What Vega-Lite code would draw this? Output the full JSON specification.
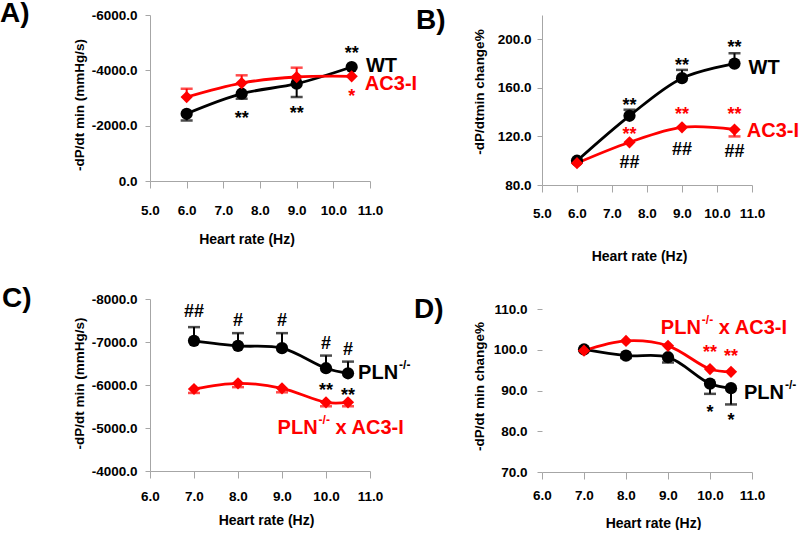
{
  "$schema": "https://vega.github.io/schema/vega-lite/v6.json",
  "padding": 0,
  "background": "white",
  "datasets": {
    "pts": [
      {"panel":"A","series":"WT","hz":6,"value":-2430},
      {"panel":"A","series":"WT","hz":7.5,"value":-3155},
      {"panel":"A","series":"WT","hz":9,"value":-3517},
      {"panel":"A","series":"WT","hz":10.5,"value":-4120},
      {"panel":"A","series":"AC3-I","hz":6,"value":-3036},
      {"panel":"A","series":"AC3-I","hz":7.5,"value":-3542},
      {"panel":"A","series":"AC3-I","hz":9,"value":-3759},
      {"panel":"A","series":"AC3-I","hz":10.5,"value":-3783},
      {"panel":"B","series":"WT","hz":6,"value":100},
      {"panel":"B","series":"WT","hz":7.5,"value":137},
      {"panel":"B","series":"WT","hz":9,"value":168},
      {"panel":"B","series":"WT","hz":10.5,"value":180},
      {"panel":"B","series":"AC3-I","hz":6,"value":98},
      {"panel":"B","series":"AC3-I","hz":7.5,"value":115.2},
      {"panel":"B","series":"AC3-I","hz":9,"value":127.5},
      {"panel":"B","series":"AC3-I","hz":10.5,"value":125.7},
      {"panel":"C","series":"PLN","hz":7,"value":-7027},
      {"panel":"C","series":"PLN","hz":8,"value":-6910},
      {"panel":"C","series":"PLN","hz":9,"value":-6856},
      {"panel":"C","series":"PLN","hz":10,"value":-6390},
      {"panel":"C","series":"PLN","hz":10.5,"value":-6273},
      {"panel":"C","series":"PLNxAC3","hz":7,"value":-5907},
      {"panel":"C","series":"PLNxAC3","hz":8,"value":-6040},
      {"panel":"C","series":"PLNxAC3","hz":9,"value":-5923},
      {"panel":"C","series":"PLNxAC3","hz":10,"value":-5596},
      {"panel":"C","series":"PLNxAC3","hz":10.5,"value":-5596},
      {"panel":"D","series":"PLN","hz":7,"value":100.1},
      {"panel":"D","series":"PLN","hz":8,"value":98.6},
      {"panel":"D","series":"PLN","hz":9,"value":98.2},
      {"panel":"D","series":"PLN","hz":10,"value":91.7},
      {"panel":"D","series":"PLN","hz":10.5,"value":90.6},
      {"panel":"D","series":"PLNxAC3","hz":7,"value":99.8},
      {"panel":"D","series":"PLNxAC3","hz":8,"value":102.2},
      {"panel":"D","series":"PLNxAC3","hz":9,"value":101},
      {"panel":"D","series":"PLNxAC3","hz":10,"value":95.3},
      {"panel":"D","series":"PLNxAC3","hz":10.5,"value":94.6}
    ],
    "errs": [
      {"panel":"A","series":"WT","hz":6,"value":-2430,"end":-2190},
      {"panel":"A","series":"WT","hz":7.5,"value":-3155,"end":-2975},
      {"panel":"A","series":"WT","hz":9,"value":-3517,"end":-3036},
      {"panel":"A","series":"AC3-I","hz":6,"value":-3036,"end":-3336},
      {"panel":"A","series":"AC3-I","hz":7.5,"value":-3542,"end":-3820},
      {"panel":"A","series":"AC3-I","hz":9,"value":-3759,"end":-4096},
      {"panel":"B","series":"WT","hz":7.5,"value":137,"end":142},
      {"panel":"B","series":"WT","hz":9,"value":168,"end":174.8},
      {"panel":"B","series":"WT","hz":10.5,"value":180,"end":188.5},
      {"panel":"B","series":"AC3-I","hz":10.5,"value":125.7,"end":120},
      {"panel":"C","series":"PLN","hz":7,"value":-7027,"end":-7346},
      {"panel":"C","series":"PLN","hz":8,"value":-6910,"end":-7206},
      {"panel":"C","series":"PLN","hz":9,"value":-6856,"end":-7206},
      {"panel":"C","series":"PLN","hz":10,"value":-6390,"end":-6684},
      {"panel":"C","series":"PLN","hz":10.5,"value":-6273,"end":-6544},
      {"panel":"C","series":"PLNxAC3","hz":7,"value":-5907,"end":-5815},
      {"panel":"C","series":"PLNxAC3","hz":8,"value":-6040,"end":-5950},
      {"panel":"C","series":"PLNxAC3","hz":9,"value":-5923,"end":-5830},
      {"panel":"C","series":"PLNxAC3","hz":10,"value":-5596,"end":-5505},
      {"panel":"C","series":"PLNxAC3","hz":10.5,"value":-5596,"end":-5505},
      {"panel":"D","series":"PLN","hz":8,"value":98.6,"end":98.0},
      {"panel":"D","series":"PLN","hz":9,"value":98.2,"end":96.9},
      {"panel":"D","series":"PLN","hz":10,"value":91.7,"end":89.2},
      {"panel":"D","series":"PLN","hz":10.5,"value":90.6,"end":86.6}
    ],
    "ann": [
      {"panel":"A","series":"WT","hz":7.5,"value":-2420,"text":"**","kind":"star"},
      {"panel":"A","series":"WT","hz":9,"value":-2600,"text":"**","kind":"star"},
      {"panel":"A","series":"WT","hz":10.5,"value":-4770,"text":"**","kind":"star"},
      {"panel":"A","series":"AC3-I","hz":10.5,"value":-3216,"text":"*","kind":"star"},
      {"panel":"B","series":"WT","hz":7.5,"value":149,"text":"**","kind":"star"},
      {"panel":"B","series":"WT","hz":9,"value":182,"text":"**","kind":"star"},
      {"panel":"B","series":"WT","hz":10.5,"value":197,"text":"**","kind":"star"},
      {"panel":"B","series":"AC3-I","hz":7.5,"value":125.6,"text":"**","kind":"star"},
      {"panel":"B","series":"AC3-I","hz":9,"value":142,"text":"**","kind":"star"},
      {"panel":"B","series":"AC3-I","hz":10.5,"value":142,"text":"**","kind":"star"},
      {"panel":"B","series":"WT","hz":7.5,"value":98.6,"text":"##","kind":"hash"},
      {"panel":"B","series":"WT","hz":9,"value":109.8,"text":"##","kind":"hash"},
      {"panel":"B","series":"WT","hz":10.5,"value":107.9,"text":"##","kind":"hash"},
      {"panel":"C","series":"PLN","hz":7,"value":-7710,"text":"##","kind":"hash"},
      {"panel":"C","series":"PLN","hz":8,"value":-7517,"text":"#","kind":"hash"},
      {"panel":"C","series":"PLN","hz":9,"value":-7517,"text":"#","kind":"hash"},
      {"panel":"C","series":"PLN","hz":10,"value":-6973,"text":"#","kind":"hash"},
      {"panel":"C","series":"PLN","hz":10.5,"value":-6833,"text":"#","kind":"hash"},
      {"panel":"C","series":"PLN","hz":10,"value":-5984,"text":"**","kind":"star"},
      {"panel":"C","series":"PLN","hz":10.5,"value":-5860,"text":"**","kind":"star"},
      {"panel":"D","series":"PLNxAC3","hz":10,"value":100.4,"text":"**","kind":"star"},
      {"panel":"D","series":"PLNxAC3","hz":10.5,"value":99.4,"text":"**","kind":"star"},
      {"panel":"D","series":"PLN","hz":10,"value":85.8,"text":"*","kind":"star"},
      {"panel":"D","series":"PLN","hz":10.5,"value":83.8,"text":"*","kind":"star"}
    ],
    "labs": [
      {"panel":"A","series":"WT","hz":10.89,"value":-4150,"main":"WT","sup":"","rest":""},
      {"panel":"A","series":"AC3-I","hz":10.86,"value":-3500,"main":"AC3-I","sup":"","rest":""},
      {"panel":"B","series":"WT","hz":10.9,"value":176.5,"main":"WT","sup":"","rest":""},
      {"panel":"B","series":"AC3-I","hz":10.85,"value":124.8,"main":"AC3-I","sup":"","rest":""},
      {"panel":"C","series":"PLN","hz":10.73,"value":-6280,"main":"PLN","sup":"-/-","rest":""},
      {"panel":"C","series":"PLNxAC3","hz":8.9,"value":-5000,"main":"PLN","sup":"-/-","rest":"x AC3-I"},
      {"panel":"D","series":"PLNxAC3","hz":8.83,"value":105.4,"main":"PLN","sup":"-/-","rest":"x AC3-I"},
      {"panel":"D","series":"PLN","hz":10.81,"value":89.4,"main":"PLN","sup":"-/-","rest":""}
    ]
  },
  "columns": 2,
  "spacing": {"row": 114, "column": 172},
  "bounds": "flush",
  "concat": [
    {
      "width": 220, "height": 166,
      "title": {"text": "A)", "dx": -150, "dy": 24},
      "encoding": {
        "x": {"field":"hz","type":"quantitative","scale":{"domain":[5,11],"nice":false,"zero":false},
              "axis":{"values":[5,6,7,8,9,10,11],"format":".1f","title":"Heart rate (Hz)","titleX":96.5,"titleY":58,"titleBaseline":"middle","titleAlign":"center","labelPadding":15}},
        "y": {"field":"value","type":"quantitative","scale":{"domain":[-6000,0],"reverse":true,"nice":false,"zero":false},
              "axis":{"values":[0,-2000,-4000,-6000],"format":".1f","labelExpr":"replace(datum.label, '\u2212', '-')","title":"-dP/dt min (mmHg/s)","titleX":-71,"titleY":89.5,"titleBaseline":"middle","titleAlign":"center","labelPadding":8}},
        "color": {"field":"series","type":"nominal","scale":{"domain":["WT","AC3-I","PLN","PLNxAC3"],"range":["#000000","#ff0000","#000000","#ff0000"]},"legend":null}
      },
      "layer": [
        {"data":{"name":"pts"},"transform":[{"filter":"datum.panel==='A'"}],"mark":{"type":"line","interpolate":"catmull-rom","strokeWidth":2.8}},
        {"data":{"name":"errs"},"transform":[{"filter":"datum.panel==='A'"}],"mark":{"type":"rule","strokeWidth":2},"encoding":{"y2":{"field":"end"}}},
        {"data":{"name":"errs"},"transform":[{"filter":"datum.panel==='A'"}],"mark":{"type":"tick","orient":"horizontal","size":12,"thickness":2.5},"encoding":{"y":{"field":"end","type":"quantitative"}}},
        {"data":{"name":"pts"},"transform":[{"filter":"datum.panel==='A'"}],"mark":{"type":"point","filled":true,"size":150,"opacity":1},"encoding":{"shape":{"field":"series","type":"nominal","scale":{"domain":["WT","AC3-I","PLN","PLNxAC3"],"range":["circle","diamond","circle","diamond"]},"legend":null}}},
        {"data":{"name":"ann"},"transform":[{"filter":"datum.panel==='A' && datum.kind==='star'"}],"mark":{"type":"text","fontSize":18,"fontWeight":"bold","align":"center","baseline":"middle","dy":5},"encoding":{"text":{"field":"text"}}},
        {"data":{"name":"ann"},"transform":[{"filter":"datum.panel==='A' && datum.kind==='hash'"}],"mark":{"type":"text","fontSize":18,"fontWeight":"bold","align":"center","baseline":"middle","dy":1},"encoding":{"text":{"field":"text"}}},
        {"data":{"name":"labs"},"transform":[{"filter":"datum.panel==='A'"}],"mark":{"type":"text","fontSize":20,"fontWeight":"bold","align":"left","baseline":"middle"},"encoding":{"text":{"field":"main"}}}
      ]
    },
    {
      "width": 210, "height": 170,
      "title": {"text": "B)", "dx": -126, "dy": 24},
      "encoding": {
        "x": {"field":"hz","type":"quantitative","scale":{"domain":[5,11],"nice":false,"zero":false},
              "axis":{"values":[5,6,7,8,9,10,11],"format":".1f","title":"Heart rate (Hz)","titleX":97,"titleY":71,"titleBaseline":"middle","titleAlign":"center","labelPadding":14}},
        "y": {"field":"value","type":"quantitative","scale":{"domain":[80,220],"nice":false,"zero":false},
              "axis":{"values":[80,120,160,200],"format":".1f","title":"-dP/dtmin change%","titleX":-63,"titleY":76.5,"titleBaseline":"middle","titleAlign":"center","labelPadding":6}},
        "color": {"field":"series","type":"nominal","scale":{"domain":["WT","AC3-I","PLN","PLNxAC3"],"range":["#000000","#ff0000","#000000","#ff0000"]},"legend":null}
      },
      "layer": [
        {"data":{"name":"pts"},"transform":[{"filter":"datum.panel==='B'"}],"mark":{"type":"line","interpolate":"catmull-rom","strokeWidth":2.8}},
        {"data":{"name":"errs"},"transform":[{"filter":"datum.panel==='B'"}],"mark":{"type":"rule","strokeWidth":2},"encoding":{"y2":{"field":"end"}}},
        {"data":{"name":"errs"},"transform":[{"filter":"datum.panel==='B'"}],"mark":{"type":"tick","orient":"horizontal","size":12,"thickness":2.5},"encoding":{"y":{"field":"end","type":"quantitative"}}},
        {"data":{"name":"pts"},"transform":[{"filter":"datum.panel==='B'"}],"mark":{"type":"point","filled":true,"size":150,"opacity":1},"encoding":{"shape":{"field":"series","type":"nominal","scale":{"domain":["WT","AC3-I","PLN","PLNxAC3"],"range":["circle","diamond","circle","diamond"]},"legend":null}}},
        {"data":{"name":"ann"},"transform":[{"filter":"datum.panel==='B' && datum.kind==='star'"}],"mark":{"type":"text","fontSize":18,"fontWeight":"bold","align":"center","baseline":"middle","dy":5},"encoding":{"text":{"field":"text"}}},
        {"data":{"name":"ann"},"transform":[{"filter":"datum.panel==='B' && datum.kind==='hash'"}],"mark":{"type":"text","fontSize":18,"fontWeight":"bold","align":"center","baseline":"middle","dy":1},"encoding":{"text":{"field":"text"}}},
        {"data":{"name":"labs"},"transform":[{"filter":"datum.panel==='B'"}],"mark":{"type":"text","fontSize":20,"fontWeight":"bold","align":"left","baseline":"middle"},"encoding":{"text":{"field":"main"}}}
      ]
    },
    {
      "width": 220, "height": 172,
      "title": {"text": "C)", "dx": -148, "dy": 25},
      "encoding": {
        "x": {"field":"hz","type":"quantitative","scale":{"domain":[6,11],"nice":false,"zero":false},
              "axis":{"values":[6,7,8,9,10,11],"format":".1f","title":"Heart rate (Hz)","titleX":116,"titleY":49,"titleBaseline":"middle","titleAlign":"center","labelPadding":11}},
        "y": {"field":"value","type":"quantitative","scale":{"domain":[-8000,-4000],"reverse":true,"nice":false,"zero":false},
              "axis":{"values":[-4000,-5000,-6000,-7000,-8000],"format":".1f","labelExpr":"replace(datum.label, '\u2212', '-')","title":"-dP/dt min (mmHg/s)","titleX":-71,"titleY":84,"titleBaseline":"middle","titleAlign":"center","labelPadding":8}},
        "color": {"field":"series","type":"nominal","scale":{"domain":["WT","AC3-I","PLN","PLNxAC3"],"range":["#000000","#ff0000","#000000","#ff0000"]},"legend":null}
      },
      "layer": [
        {"data":{"name":"pts"},"transform":[{"filter":"datum.panel==='C'"}],"mark":{"type":"line","interpolate":"catmull-rom","strokeWidth":2.8}},
        {"data":{"name":"errs"},"transform":[{"filter":"datum.panel==='C'"}],"mark":{"type":"rule","strokeWidth":2},"encoding":{"y2":{"field":"end"}}},
        {"data":{"name":"errs"},"transform":[{"filter":"datum.panel==='C'"}],"mark":{"type":"tick","orient":"horizontal","size":12,"thickness":2.5},"encoding":{"y":{"field":"end","type":"quantitative"}}},
        {"data":{"name":"pts"},"transform":[{"filter":"datum.panel==='C'"}],"mark":{"type":"point","filled":true,"size":150,"opacity":1},"encoding":{"shape":{"field":"series","type":"nominal","scale":{"domain":["WT","AC3-I","PLN","PLNxAC3"],"range":["circle","diamond","circle","diamond"]},"legend":null}}},
        {"data":{"name":"ann"},"transform":[{"filter":"datum.panel==='C' && datum.kind==='star'"}],"mark":{"type":"text","fontSize":18,"fontWeight":"bold","align":"center","baseline":"middle","dy":5},"encoding":{"text":{"field":"text"}}},
        {"data":{"name":"ann"},"transform":[{"filter":"datum.panel==='C' && datum.kind==='hash'"}],"mark":{"type":"text","fontSize":18,"fontWeight":"bold","align":"center","baseline":"middle","dy":1},"encoding":{"text":{"field":"text"}}},
        {"data":{"name":"labs"},"transform":[{"filter":"datum.panel==='C'"}],"mark":{"type":"text","fontSize":20,"fontWeight":"bold","align":"left","baseline":"middle"},"encoding":{"text":{"field":"main"}}},
        {"data":{"name":"labs"},"transform":[{"filter":"datum.panel==='C'"}],"mark":{"type":"text","fontSize":12,"fontWeight":"bold","align":"left","baseline":"middle","dx":41,"dy":-8},"encoding":{"text":{"field":"sup"}}},
        {"data":{"name":"labs"},"transform":[{"filter":"datum.panel==='C'"}],"mark":{"type":"text","fontSize":20,"fontWeight":"bold","align":"left","baseline":"middle","dx":58},"encoding":{"text":{"field":"rest"}}}
      ]
    },
    {
      "width": 210, "height": 173,
      "title": {"text": "D)", "dx": -128, "dy": 29},
      "encoding": {
        "x": {"field":"hz","type":"quantitative","scale":{"domain":[6,11],"nice":false,"zero":false},
              "axis":{"values":[6,7,8,9,10,11],"format":".1f","title":"Heart rate (Hz)","titleX":111,"titleY":51,"titleBaseline":"middle","titleAlign":"center","labelPadding":9}},
        "y": {"field":"value","type":"quantitative","scale":{"domain":[70,112.5],"nice":false,"zero":false},
              "axis":{"values":[70,80,90,100,110],"format":".1f","domain":false,"title":"-dP/dt min change%","titleX":-63,"titleY":87,"titleBaseline":"middle","titleAlign":"center","labelPadding":10}},
        "color": {"field":"series","type":"nominal","scale":{"domain":["WT","AC3-I","PLN","PLNxAC3"],"range":["#000000","#ff0000","#000000","#ff0000"]},"legend":null}
      },
      "layer": [
        {"mark":{"type":"rule","color":"#a6a6a6","strokeWidth":1},"encoding":{"x":{"datum":6},"y":{"datum":70},"y2":{"datum":110},"color":{"value":"#a6a6a6"}}},
        {"data":{"name":"pts"},"transform":[{"filter":"datum.panel==='D'"}],"mark":{"type":"line","interpolate":"catmull-rom","strokeWidth":2.8}},
        {"data":{"name":"errs"},"transform":[{"filter":"datum.panel==='D'"}],"mark":{"type":"rule","strokeWidth":2},"encoding":{"y2":{"field":"end"}}},
        {"data":{"name":"errs"},"transform":[{"filter":"datum.panel==='D'"}],"mark":{"type":"tick","orient":"horizontal","size":12,"thickness":2.5},"encoding":{"y":{"field":"end","type":"quantitative"}}},
        {"data":{"name":"pts"},"transform":[{"filter":"datum.panel==='D'"}],"mark":{"type":"point","filled":true,"size":150,"opacity":1},"encoding":{"shape":{"field":"series","type":"nominal","scale":{"domain":["WT","AC3-I","PLN","PLNxAC3"],"range":["circle","diamond","circle","diamond"]},"legend":null}}},
        {"data":{"name":"ann"},"transform":[{"filter":"datum.panel==='D' && datum.kind==='star'"}],"mark":{"type":"text","fontSize":18,"fontWeight":"bold","align":"center","baseline":"middle","dy":5},"encoding":{"text":{"field":"text"}}},
        {"data":{"name":"labs"},"transform":[{"filter":"datum.panel==='D'"}],"mark":{"type":"text","fontSize":20,"fontWeight":"bold","align":"left","baseline":"middle"},"encoding":{"text":{"field":"main"}}},
        {"data":{"name":"labs"},"transform":[{"filter":"datum.panel==='D'"}],"mark":{"type":"text","fontSize":12,"fontWeight":"bold","align":"left","baseline":"middle","dx":41,"dy":-8},"encoding":{"text":{"field":"sup"}}},
        {"data":{"name":"labs"},"transform":[{"filter":"datum.panel==='D'"}],"mark":{"type":"text","fontSize":20,"fontWeight":"bold","align":"left","baseline":"middle","dx":58},"encoding":{"text":{"field":"rest"}}}
      ]
    }
  ],
  "config": {
    "font": "Liberation Sans",
    "view": {"stroke": null},
    "axis": {"grid": false, "domainColor": "#a6a6a6", "tickColor": "#a6a6a6", "domainWidth": 1, "tickWidth": 1,
             "labelFont": "Liberation Sans", "labelFontSize": 13.5, "labelFontWeight": "bold", "labelColor": "#000000",
             "titleFont": "Liberation Sans", "titleFontWeight": "bold", "titleColor": "#000000",
             "labelOverlap": false, "labelFlush": false},
    "axisX": {"tickSize": 7, "titleFontSize": 14},
    "axisY": {"tickSize": 5, "titleFontSize": 13.5},
    "title": {"font": "Liberation Sans", "fontSize": 28, "fontWeight": "bold", "color": "#000000", "anchor": "start", "frame": "group", "offset": 0}
  }
}
